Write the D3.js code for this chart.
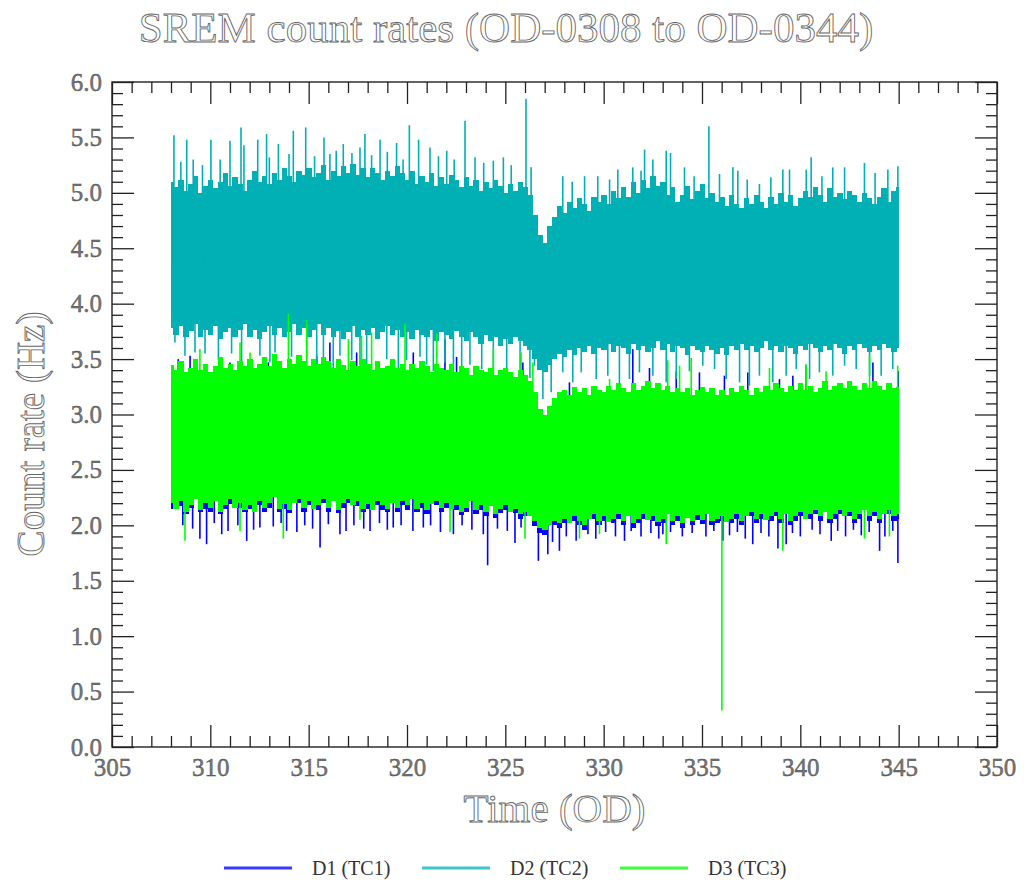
<!DOCTYPE html>
<html>
<head>
<meta charset="utf-8">
<script src="https://cdn.jsdelivr.net/npm/d3@7"></script>
<style>
  body { margin: 0; background: #fff; }
  svg { display: block; }
  text { font-family: 'Liberation Serif', 'Times New Roman', serif; }
</style>
</head>
<body>
<div id="container"></div>
<script>
// sample grid, OD 308 -> 345 every quarter day
const odTimes = d3.range(308, 345.001, 0.25)

// D1 (TC1) band edges, one row per OD
const d1Hi = [
  3.38, 3.30, 3.42, 3.34,  3.36, 3.44, 3.32, 3.40,  3.30, 3.38, 3.46, 3.36,  3.40, 3.34, 3.42, 3.38,
  3.44, 3.36, 3.40, 3.46,  3.38, 3.48, 3.42, 3.36,  3.44, 3.40, 3.48, 3.42,  3.38, 3.44, 3.40, 3.46,
  3.42, 3.36, 3.44, 3.38,  3.34, 3.42, 3.38, 3.44,  3.40, 3.34, 3.42, 3.36,  3.38, 3.44, 3.36, 3.40,
  3.34, 3.40, 3.36, 3.42,  3.38, 3.32, 3.40, 3.36,  3.34, 3.40, 3.32, 3.38,  3.36, 3.30, 3.38, 3.34,
  3.32, 3.36, 3.30, 3.34,  3.36, 3.32, 3.28, 3.34,  3.30, 3.24, 3.14, 2.98,  2.92, 3.02, 3.10, 3.14,
  3.16, 3.12, 3.20, 3.14,  3.18, 3.12, 3.20, 3.16,  3.14, 3.20, 3.16, 3.22,  3.18, 3.14, 3.22, 3.16,
  3.20, 3.24, 3.18, 3.22,  3.16, 3.20, 3.14, 3.18,  3.14, 3.18, 3.12, 3.16,  3.19, 3.14, 3.18, 3.12,
  3.16, 3.12, 3.18, 3.14,  3.20, 3.16, 3.12, 3.18,  3.14, 3.20, 3.16, 3.22,  3.18, 3.14, 3.20, 3.16,
  3.22, 3.16, 3.20, 3.14,  3.18, 3.24, 3.16, 3.20,  3.22, 3.18, 3.24, 3.20,  3.16, 3.22, 3.18, 3.24,
  3.20, 3.16, 3.22, 3.18,  3.19
]
const d1Lo = [
  2.15, 2.17, 2.17, 2.10,  2.16, 2.26, 2.12, 2.15,  2.12, 2.24, 2.10, 2.15,  2.19, 2.18, 2.16, 2.12,
  2.15, 2.14, 2.18, 2.12,  2.16, 2.28, 2.12, 2.15,  2.11, 2.22, 2.20, 2.12,  2.18, 2.17, 2.14, 2.20,
  2.12, 2.24, 2.11, 2.16,  2.20, 2.20, 2.17, 2.12,  2.15, 2.16, 2.18, 2.14,  2.12, 2.22, 2.12, 2.18,
  2.14, 2.26, 2.12, 2.16,  2.10, 2.21, 2.18, 2.12,  2.16, 2.17, 2.14, 2.09,  2.12, 2.24, 2.10, 2.14,
  2.08, 2.19, 2.07, 2.11,  2.14, 2.14, 2.11, 2.06,  2.08, 2.10, 1.99, 1.93,  1.91, 2.02, 2.00, 1.98,
  2.02, 2.04, 2.04, 2.00,  1.96, 2.08, 2.06, 2.00,  2.04, 2.05, 2.02, 2.06,  2.00, 2.10, 1.98, 2.02,
  2.06, 2.07, 2.04, 1.99,  2.02, 2.12, 2.00, 2.04,  1.98, 2.09, 2.00, 2.05,  2.01, 2.12, 2.00, 2.02,
  2.04, 2.05, 2.02, 2.06,  2.00, 2.10, 2.08, 2.02,  2.06, 2.07, 2.04, 2.08,  2.02, 2.12, 2.00, 2.04,
  2.08, 2.08, 2.06, 2.10,  2.04, 2.14, 2.02, 2.06,  2.10, 2.10, 2.08, 2.02,  2.06, 2.16, 2.04, 2.08,
  2.02, 2.12, 2.10, 2.04,  2.06
]

// D2 (TC2)
const d2Hi = [
  5.10, 5.05, 5.12, 5.02,  5.08, 5.15, 5.00, 5.06,  5.12, 5.04, 5.10, 5.18,  5.06, 5.14, 5.08, 5.02,
  5.12, 5.20, 5.10, 5.15,  5.08, 5.18, 5.12, 5.22,  5.15, 5.10, 5.20, 5.16,  5.22, 5.14, 5.18, 5.25,
  5.12, 5.20, 5.15, 5.24,  5.18, 5.26, 5.16, 5.22,  5.14, 5.22, 5.18, 5.12,  5.20, 5.15, 5.24, 5.18,
  5.12, 5.20, 5.08, 5.15,  5.10, 5.18, 5.06, 5.14,  5.08, 5.16, 5.12, 5.05,  5.14, 5.06, 5.12, 5.02,
  5.10, 5.04, 5.12, 5.06,  5.00, 5.08, 5.02, 5.10,  5.05, 4.98, 4.80, 4.62,  4.55, 4.70, 4.78, 4.88,
  4.82, 4.92, 4.86, 4.95,  4.90, 4.84, 4.96, 4.92,  4.98, 4.90, 5.02, 4.95,  5.05, 4.96, 5.10, 5.00,
  5.12, 5.04, 5.15, 5.06,  5.10, 4.98, 5.05, 4.92,  4.98, 5.06, 4.94, 5.02,  5.08, 4.95, 5.00, 4.92,
  4.96, 4.88, 4.98, 4.90,  4.86, 4.95, 4.90, 4.98,  4.92, 4.86, 4.96, 4.90,  5.00, 4.92, 4.98, 4.88,
  4.95, 5.02, 4.96, 5.05,  4.98, 4.92, 5.04, 4.96,  5.00, 4.94, 5.02, 4.98,  4.92, 5.00, 4.95, 4.90,
  4.96, 5.04, 4.92, 5.02,  5.05
]
const d2Lo = [
  3.78, 3.72, 3.80, 3.70,  3.75, 3.82, 3.70, 3.76,  3.72, 3.80, 3.68, 3.74,  3.78, 3.70, 3.76, 3.82,
  3.70, 3.76, 3.68, 3.74,  3.80, 3.72, 3.78, 3.70,  3.74, 3.82, 3.72, 3.78,  3.70, 3.76, 3.82, 3.72,
  3.78, 3.70, 3.75, 3.68,  3.74, 3.80, 3.70, 3.76,  3.72, 3.78, 3.68, 3.74,  3.80, 3.72, 3.76, 3.70,
  3.74, 3.68, 3.76, 3.72,  3.70, 3.76, 3.66, 3.74,  3.72, 3.68, 3.75, 3.70,  3.66, 3.74, 3.70, 3.64,
  3.72, 3.66, 3.70, 3.62,  3.68, 3.64, 3.70, 3.66,  3.62, 3.58, 3.50, 3.40,  3.38, 3.45, 3.50, 3.55,
  3.52, 3.58, 3.54, 3.60,  3.56, 3.62, 3.55, 3.60,  3.58, 3.64, 3.56, 3.62,  3.60, 3.55, 3.64, 3.58,
  3.62, 3.56, 3.60, 3.66,  3.58, 3.64, 3.56, 3.62,  3.60, 3.54, 3.62, 3.58,  3.56, 3.62, 3.58, 3.55,
  3.60, 3.54, 3.62, 3.58,  3.64, 3.58, 3.62, 3.56,  3.60, 3.66, 3.58, 3.62,  3.56, 3.62, 3.60, 3.55,
  3.62, 3.58, 3.64, 3.60,  3.56, 3.62, 3.58, 3.64,  3.60, 3.55, 3.62, 3.58,  3.64, 3.60, 3.56, 3.62,
  3.58, 3.64, 3.60, 3.56,  3.60
]

// D3 (TC3)
const d3Hi = [
  3.45, 3.40, 3.48, 3.38,  3.42, 3.50, 3.40, 3.46,  3.38, 3.44, 3.52, 3.42,  3.46, 3.40, 3.48, 3.44,
  3.50, 3.42, 3.46, 3.52,  3.44, 3.55, 3.48, 3.42,  3.50, 3.46, 3.54, 3.48,  3.44, 3.50, 3.46, 3.52,
  3.48, 3.42, 3.50, 3.45,  3.40, 3.48, 3.44, 3.50,  3.46, 3.40, 3.48, 3.42,  3.44, 3.50, 3.42, 3.46,
  3.40, 3.46, 3.42, 3.48,  3.44, 3.38, 3.46, 3.42,  3.40, 3.46, 3.38, 3.44,  3.42, 3.36, 3.44, 3.40,
  3.38, 3.42, 3.36, 3.40,  3.42, 3.38, 3.34, 3.40,  3.36, 3.30, 3.20, 3.05,  3.00, 3.08, 3.15, 3.20,
  3.22, 3.18, 3.25, 3.20,  3.24, 3.18, 3.26, 3.22,  3.20, 3.26, 3.22, 3.28,  3.24, 3.20, 3.28, 3.22,
  3.26, 3.30, 3.24, 3.28,  3.22, 3.26, 3.20, 3.24,  3.20, 3.24, 3.18, 3.22,  3.25, 3.20, 3.24, 3.18,
  3.22, 3.18, 3.24, 3.20,  3.26, 3.22, 3.18, 3.24,  3.20, 3.26, 3.22, 3.28,  3.24, 3.20, 3.26, 3.22,
  3.28, 3.22, 3.26, 3.20,  3.24, 3.30, 3.22, 3.26,  3.28, 3.24, 3.30, 3.26,  3.22, 3.28, 3.24, 3.30,
  3.26, 3.22, 3.28, 3.24,  3.25
]
const d3Lo = [
  2.20, 2.15, 2.22, 2.12,  2.18, 2.24, 2.14, 2.20,  2.16, 2.22, 2.12, 2.18,  2.24, 2.16, 2.20, 2.14,
  2.18, 2.12, 2.22, 2.16,  2.20, 2.26, 2.15, 2.19,  2.14, 2.20, 2.24, 2.16,  2.22, 2.15, 2.18, 2.24,
  2.16, 2.22, 2.14, 2.20,  2.24, 2.18, 2.22, 2.15,  2.19, 2.14, 2.22, 2.18,  2.15, 2.20, 2.16, 2.22,
  2.18, 2.24, 2.15, 2.20,  2.14, 2.19, 2.22, 2.16,  2.20, 2.15, 2.18, 2.12,  2.16, 2.22, 2.14, 2.18,
  2.12, 2.17, 2.10, 2.15,  2.18, 2.12, 2.15, 2.10,  2.12, 2.08, 2.04, 1.98,  1.96, 2.00, 2.04, 2.02,
  2.06, 2.02, 2.08, 2.04,  2.00, 2.06, 2.10, 2.04,  2.08, 2.03, 2.06, 2.10,  2.04, 2.08, 2.02, 2.06,
  2.10, 2.05, 2.08, 2.03,  2.06, 2.10, 2.04, 2.08,  2.02, 2.07, 2.04, 2.09,  2.05, 2.10, 2.04, 2.06,
  2.08, 2.03, 2.06, 2.10,  2.04, 2.08, 2.12, 2.06,  2.10, 2.05, 2.08, 2.12,  2.06, 2.10, 2.04, 2.08,
  2.12, 2.06, 2.10, 2.14,  2.08, 2.12, 2.06, 2.10,  2.14, 2.08, 2.12, 2.06,  2.10, 2.14, 2.08, 2.12,
  2.06, 2.10, 2.14, 2.08,  2.10
]

// single samples that stick out of the bands: [OD, Hz]
const d1Spikes = [
  [308.37, 3.50], [308.97, 3.53], [310.49, 3.35], [311.00, 3.47], [312.95, 3.47], [315.41, 3.53],
  [316.08, 3.65], [317.44, 3.56], [320.32, 3.56], [321.93, 3.68], [322.52, 3.52], [323.54, 3.35],
  [325.07, 3.39], [325.89, 3.47], [328.26, 3.29], [331.48, 3.59], [332.33, 3.42], [333.69, 3.39],
  [334.87, 3.38], [336.14, 3.35], [337.33, 3.38], [338.94, 3.32], [339.62, 3.35], [340.30, 3.45],
  [343.69, 3.47], [344.98, 3.39],
  [309.47, 1.88], [309.81, 1.83], [310.58, 1.92], [311.85, 1.86], [312.52, 1.98], [313.88, 1.95],
  [315.58, 1.80], [316.59, 1.92], [318.12, 1.95], [319.30, 1.98], [320.83, 1.98], [322.36, 1.92],
  [323.88, 1.92], [324.10, 1.64], [325.49, 1.84], [326.68, 1.68], [327.16, 1.74], [327.75, 1.77],
  [331.06, 1.86], [333.01, 1.92], [336.06, 1.86], [337.58, 1.83], [338.86, 1.79], [339.28, 1.83],
  [341.57, 1.86], [344.03, 1.77], [344.96, 1.66],
  [308.60, 2.00], [309.10, 1.97], [310.20, 2.02], [310.90, 1.95], [311.40, 2.00], [312.20, 1.96],
  [313.20, 1.99], [313.60, 2.02], [314.40, 1.94], [314.80, 2.00], [315.20, 1.97], [316.00, 2.01],
  [316.90, 1.95], [317.30, 2.00], [317.80, 1.97], [318.60, 2.02], [319.00, 1.96], [319.70, 2.00],
  [320.30, 1.95], [321.20, 2.00], [321.70, 1.94], [322.80, 2.00], [323.30, 1.96], [324.60, 1.97],
  [325.10, 1.95], [325.80, 1.98], [327.40, 1.85], [328.10, 1.90], [328.60, 1.86], [329.20, 1.92],
  [329.60, 1.88], [330.10, 1.94], [330.60, 1.90], [331.40, 1.95], [331.90, 1.90], [332.40, 1.93],
  [332.80, 1.88], [333.40, 1.94], [334.00, 1.90], [334.50, 1.93], [335.20, 1.90], [335.60, 1.95],
  [336.40, 1.91], [336.80, 1.94], [337.20, 1.88], [338.00, 1.93], [338.40, 1.90], [339.60, 1.93],
  [340.00, 1.90], [340.60, 1.96], [341.00, 1.92], [341.90, 1.95], [342.30, 1.90], [342.70, 1.96],
  [343.10, 1.91], [343.50, 1.94], [344.30, 1.90], [344.70, 1.95]
]
const d2Spikes = [
  [308.15, 5.52], [308.50, 5.28], [308.80, 5.48], [309.13, 5.30], [309.60, 5.25], [310.03, 5.48],
  [310.50, 5.30], [311.00, 5.47], [311.56, 5.59], [311.71, 5.43], [312.41, 5.48], [312.86, 5.53],
  [313.00, 5.32], [313.46, 5.44], [314.00, 5.35], [314.22, 5.56], [314.85, 5.59], [315.30, 5.33],
  [315.78, 5.50], [316.08, 5.35], [316.40, 5.38], [316.76, 5.44], [317.20, 5.36], [317.61, 5.41],
  [317.86, 5.53], [318.20, 5.34], [318.63, 5.48], [319.00, 5.37], [319.47, 5.45], [319.80, 5.30],
  [320.12, 5.61], [320.59, 5.48], [321.17, 5.41], [321.60, 5.33], [322.02, 5.38], [322.40, 5.30],
  [322.95, 5.65], [323.46, 5.32], [323.90, 5.27], [324.39, 5.29], [324.90, 5.32], [325.30, 5.25],
  [326.05, 5.85], [326.31, 5.23], [327.92, 5.15], [328.40, 5.10], [329.03, 5.15], [329.70, 5.15],
  [330.30, 5.12], [330.72, 5.21], [331.48, 5.23], [331.90, 5.20], [332.08, 5.39], [332.50, 5.30],
  [333.18, 5.38], [333.40, 5.36], [334.11, 5.23], [334.60, 5.15], [335.35, 5.60], [335.89, 5.17],
  [336.57, 5.23], [336.82, 5.20], [337.30, 5.12], [337.92, 5.08], [338.50, 5.14], [339.11, 5.21],
  [339.45, 5.21], [340.30, 5.21], [340.55, 5.32], [341.10, 5.15], [341.65, 5.23], [342.25, 5.23],
  [343.26, 5.27], [343.80, 5.18], [344.45, 5.21], [344.96, 5.24],
  [308.20, 3.65], [308.71, 3.53], [309.22, 3.56], [309.73, 3.55], [310.41, 3.49], [311.08, 3.55],
  [311.59, 3.44], [312.52, 3.53], [313.03, 3.47], [313.29, 3.56], [314.13, 3.52], [314.90, 3.50],
  [315.41, 3.44], [315.75, 3.45], [316.25, 3.35], [316.59, 3.53], [317.19, 3.49], [317.61, 3.44],
  [317.95, 3.30], [318.97, 3.50], [319.56, 3.41], [319.98, 3.49], [320.66, 3.52], [321.00, 3.45],
  [321.34, 3.39], [321.93, 3.47], [322.36, 3.44], [322.78, 3.39], [323.20, 3.45], [323.80, 3.41],
  [324.39, 3.42], [325.07, 3.41], [325.75, 3.32], [326.25, 3.33], [326.48, 3.44], [326.91, 3.14],
  [327.33, 3.20], [327.92, 3.38], [328.43, 3.29], [328.86, 3.38], [329.62, 3.32], [330.21, 3.35],
  [330.80, 3.26], [331.31, 3.32], [331.82, 3.38], [332.50, 3.35], [333.18, 3.29], [333.69, 3.32],
  [334.36, 3.39], [335.04, 3.44], [335.64, 3.41], [336.23, 3.32], [336.91, 3.29], [337.41, 3.26],
  [337.92, 3.35], [338.60, 3.29], [339.28, 3.35], [339.79, 3.41], [340.47, 3.32], [340.97, 3.38],
  [341.65, 3.35], [342.25, 3.44], [342.84, 3.41], [343.52, 3.35], [344.11, 3.35], [344.70, 3.41]
]
const d3Spikes = [
  [309.47, 3.59], [311.51, 3.65], [312.02, 3.56], [313.97, 3.91], [314.90, 3.85], [317.02, 3.68],
  [317.69, 3.71], [318.20, 3.74], [319.90, 3.82], [321.51, 3.73], [324.39, 3.59], [325.80, 3.56],
  [326.40, 3.47], [330.30, 3.32], [333.26, 3.49], [333.86, 3.44], [334.45, 3.51], [338.43, 3.42],
  [340.30, 3.45], [341.31, 3.39], [343.52, 3.53], [344.95, 3.44],
  [308.71, 1.86], [311.51, 1.95], [313.71, 1.88], [317.61, 2.05], [322.19, 1.94], [326.00, 1.88],
  [328.77, 1.88], [329.79, 1.92], [333.18, 1.83], [336.01, 0.33], [339.11, 1.77], [343.26, 1.88],
  [344.53, 1.90]
]

const seriesNames = ['D1 (TC1)', 'D2 (TC2)', 'D3 (TC3)']
const seriesColors = ['#0000ff', '#00b0b4', '#00ff00']
const legendColors = ['#3a3aff', '#3cc6c6', '#3cff3c']

const xTicks = d3.range(305, 351, 5)
const yTicks = d3.range(0, 6.01, 0.5)

const width = 1027
const height = 882
const marginLeft = 112
const marginRight = 30
const marginTop = 82
const marginBottom = 135

const x = d3.scaleLinear().domain([305, 350]).range([marginLeft, width - marginRight])
const y = d3.scaleLinear().domain([0, 6]).range([height - marginBottom, marginTop])

const svg = d3.select('#container').append('svg')
  .attr('width', width)
  .attr('height', height)

svg.append('rect').attr('width', width).attr('height', height).attr('fill', '#fff')

svg.append('clipPath').attr('id', 'plot')
  .append('rect')
  .attr('x', marginLeft).attr('y', marginTop)
  .attr('width', x(350) - x(305)).attr('height', y(0) - y(6))

const plot = svg.append('g').attr('clip-path', 'url(#plot)')

const series = [
  { hi: d1Hi, lo: d1Lo, spikes: d1Spikes },
  { hi: d2Hi, lo: d2Lo, spikes: d2Spikes },
  { hi: d3Hi, lo: d3Lo, spikes: d3Spikes }
]

const half = 0.125
series.forEach((s, i) => {
  const g = plot.append('g')
  const rows = odTimes.map((t, k) => ({ t, hi: s.hi[k], lo: s.lo[k] }))
  g.selectAll('rect')
    .data(rows)
    .join('rect')
    .attr('x', d => x(Math.max(308, d.t - half)))
    .attr('width', d => x(Math.min(345, d.t + half)) - x(Math.max(308, d.t - half)) + 0.4)
    .attr('y', d => y(d.hi))
    .attr('height', d => y(d.lo) - y(d.hi))
    .attr('fill', seriesColors[i])
    .attr('shape-rendering', 'crispEdges')

  // spikes start inside the band, from its middle
  const mid = t => {
    const k = Math.min(odTimes.length - 1, Math.round((t - 308) / 0.25))
    return (s.hi[k] + s.lo[k]) / 2
  }
  g.selectAll('line')
    .data(s.spikes)
    .join('line')
    .attr('x1', d => x(d[0]))
    .attr('x2', d => x(d[0]))
    .attr('y1', d => y(mid(d[0])))
    .attr('y2', d => y(d[1]))
    .attr('stroke', seriesColors[i])
    .attr('stroke-width', 1.6)
})

// ---- axes, ticks point inward on all four sides ----
const majorX = xTicks
const minorX = d3.range(305, 351, 1).filter(v => v % 5 !== 0)
const majorY = yTicks
const minorY = d3.range(0, 60, 1).map(v => v / 10).filter(v => Math.round(v * 10) % 5 !== 0)

const axisColor = '#222'
function styleAxis(g) {
  g.select('.domain').remove()
  g.selectAll('line').attr('stroke', axisColor).attr('stroke-width', 1.3)
}

svg.append('g').attr('transform', `translate(0,${y(0)})`)
  .call(d3.axisBottom(x).tickValues(minorX).tickSize(-11).tickFormat(''))
  .call(styleAxis)
svg.append('g').attr('transform', `translate(0,${y(0)})`)
  .call(d3.axisBottom(x).tickValues(majorX).tickSize(-22).tickPadding(11).tickFormat(d3.format('d')))
  .call(styleAxis)
svg.append('g').attr('transform', `translate(0,${y(6)})`)
  .call(d3.axisTop(x).tickValues(minorX).tickSize(-11).tickFormat(''))
  .call(styleAxis)
svg.append('g').attr('transform', `translate(0,${y(6)})`)
  .call(d3.axisTop(x).tickValues(majorX).tickSize(-22).tickFormat(''))
  .call(styleAxis)

svg.append('g').attr('transform', `translate(${x(305)},0)`)
  .call(d3.axisLeft(y).tickValues(minorY).tickSize(-11).tickFormat(''))
  .call(styleAxis)
svg.append('g').attr('transform', `translate(${x(305)},0)`)
  .call(d3.axisLeft(y).tickValues(majorY).tickSize(-22).tickPadding(10).tickFormat(d3.format('.1f')))
  .call(styleAxis)
svg.append('g').attr('transform', `translate(${x(350)},0)`)
  .call(d3.axisRight(y).tickValues(minorY).tickSize(-11).tickFormat(''))
  .call(styleAxis)
svg.append('g').attr('transform', `translate(${x(350)},0)`)
  .call(d3.axisRight(y).tickValues(majorY).tickSize(-22).tickFormat(''))
  .call(styleAxis)

svg.selectAll('.tick text')
  .style('font-family', "'Liberation Serif', serif")
  .style('font-size', '25px')
  .attr('fill', '#777')
  .attr('stroke', '#444')
  .attr('stroke-width', 0.4)

// frame
svg.append('rect')
  .attr('x', x(305)).attr('y', y(6))
  .attr('width', x(350) - x(305)).attr('height', y(0) - y(6))
  .attr('fill', 'none')
  .attr('stroke', axisColor)
  .attr('stroke-width', 1.4)

// hollow outlined titles
function outlined(sel, size) {
  sel.style('font-size', size + 'px')
    .attr('fill', '#fff')
    .attr('stroke', '#666')
    .attr('stroke-width', 0.9)
}

svg.append('text')
  .attr('x', 506).attr('y', 42)
  .attr('text-anchor', 'middle')
  .text('SREM count rates (OD-0308 to OD-0344)')
  .call(outlined, 43)

svg.append('text')
  .attr('x', (x(305) + x(350)) / 2).attr('y', 822)
  .attr('text-anchor', 'middle')
  .text('Time (OD)')
  .call(outlined, 41)

svg.append('text')
  .attr('transform', `translate(44,434)rotate(-90)`)
  .attr('text-anchor', 'middle')
  .text('Count rate (Hz)')
  .call(outlined, 39)

// legend
const legendX = [224, 422, 620]
const legend = svg.append('g')
seriesNames.forEach((name, i) => {
  legend.append('line')
    .attr('x1', legendX[i]).attr('x2', legendX[i] + 68)
    .attr('y1', 868).attr('y2', 868)
    .attr('stroke', legendColors[i])
    .attr('stroke-width', 3)
  legend.append('text')
    .attr('x', legendX[i] + 88).attr('y', 875)
    .style('font-size', '20px')
    .attr('fill', '#333')
    .text(name)
})
</script>
</body>
</html>
